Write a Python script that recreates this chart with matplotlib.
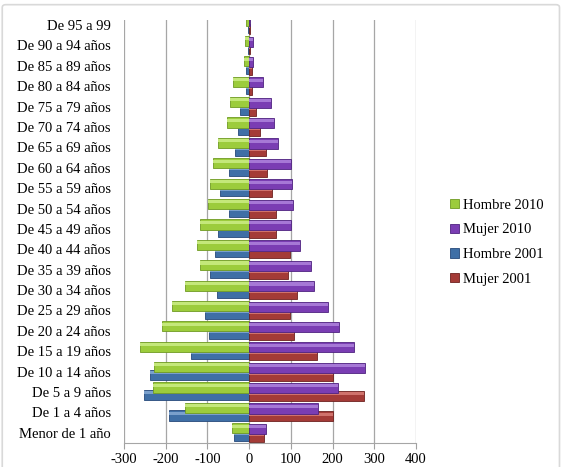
import matplotlib
matplotlib.use("Agg")
import matplotlib.pyplot as plt
from matplotlib.patches import FancyBboxPatch
import numpy as np

# age groups, bottom to top
categories = [
    "Menor de 1 año", "De 1 a 4 años", "De 5 a 9 años", "De 10 a 14 años",
    "De 15 a 19 años", "De 20 a 24 años", "De 25 a 29 años", "De 30 a 34 años",
    "De 35 a 39 años", "De 40 a 44 años", "De 45 a 49 años", "De 50 a 54 años",
    "De 55 a 59 años", "De 60 a 64 años", "De 65 a 69 años", "De 70 a 74 años",
    "De 75 a 79 años", "De 80 a 84 años", "De 85 a 89 años", "De 90 a 94 años",
    "De 95 a 99",
]
hombre_2010 = [-42, -154, -231, -228, -262, -208, -186, -154, -118, -126, -118,
               -98, -95, -87, -74, -54, -46, -38, -12, -11, -8]
mujer_2010 = [40, 164, 213, 278, 252, 215, 189, 156, 148, 122, 101,
              105, 102, 100, 70, 60, 52, 34, 10, 10, 2]
hombre_2001 = [-36, -191, -252, -238, -140, -96, -106, -78, -95, -83, -74,
               -48, -70, -48, -35, -27, -22, -8, -8, -3, -2]
mujer_2001 = [36, 200, 275, 201, 162, 108, 98, 114, 94, 98, 65,
              64, 54, 42, 40, 25, 16, 6, 7, 3, 1]
xticks = [-300, -200, -100, 0, 100, 200, 300, 400]

colors = {
    "Hombre 2010": ("#9ccc3c", "#c4e87a", "#6f9a22"),
    "Mujer 2010": ("#7a3db3", "#a678d6", "#4f2280"),
    "Hombre 2001": ("#3f6fa6", "#7aa0cc", "#26497a"),
    "Mujer 2001": ("#a43b37", "#d0726c", "#6e2220"),
}

plt.rcParams["font.family"] = ["Liberation Serif", "DejaVu Serif"]

fig = plt.figure(figsize=(5.64, 4.67), dpi=100)
ax = fig.add_axes([0.2199, 0.0514, 0.5177, 0.9058])

y = np.arange(len(categories))


def bevel_bars(vals, offset, height, key, z):
    base, light, dark = colors[key]
    ax.barh(y + offset, vals, height=height, color=base, edgecolor=dark,
            linewidth=0.6, zorder=z)
    # light strip along the top to mimic the Excel bevel
    ax.barh(y + offset + height * 0.22, vals, height=height * 0.3, color=light,
            linewidth=0, zorder=z + 0.1)


bevel_bars(hombre_2001, -0.15, 0.5, "Hombre 2001", 2)
bevel_bars(mujer_2001, -0.19, 0.5, "Mujer 2001", 2)
bevel_bars(hombre_2010, 0.22, 0.5, "Hombre 2010", 3)
bevel_bars(mujer_2010, 0.19, 0.5, "Mujer 2010", 3)

ax.set_xlim(-300, 400)
ax.set_ylim(-0.5, 20.25)
ax.set_xticks(xticks)
ax.set_xticklabels([str(v) for v in xticks], fontsize=10.5)
ax.set_yticks(y)
ax.set_yticklabels(categories, fontsize=10.5)
ax.tick_params(axis="y", length=0, pad=9.5)
ax.tick_params(axis="x", length=4, color="#a0a0a0", pad=3.5)
ax.grid(axis="x", color="#a6a6a6", linewidth=0.9, zorder=0)
ax.set_axisbelow(True)
for side in ["top", "right", "left"]:
    ax.spines[side].set_visible(False)
ax.spines["bottom"].set_color("#a6a6a6")

handles = [plt.Rectangle((0, 0), 1, 1, facecolor=colors[k][0], edgecolor=colors[k][2], linewidth=0.6)
           for k in ["Hombre 2010", "Mujer 2010", "Hombre 2001", "Mujer 2001"]]
fig.legend(handles, ["Hombre 2010", "Mujer 2010", "Hombre 2001", "Mujer 2001"],
           loc="upper left", bbox_to_anchor=(0.785, 0.59), frameon=False,
           fontsize=10.5, handlelength=0.6, handleheight=0.6, handletextpad=0.3,
           labelspacing=0.8, borderpad=0)

# chart-area frame; its bottom edge sits below the saved image like in the reference
border = FancyBboxPatch((0.004, -0.05), 0.988, 1.04, boxstyle="round,pad=0,rounding_size=0.006",
                        transform=fig.transFigure, facecolor="none", edgecolor="#d9d9d9",
                        linewidth=1.2)
fig.patches.append(border)

fig.savefig("out.png", dpi=100)
